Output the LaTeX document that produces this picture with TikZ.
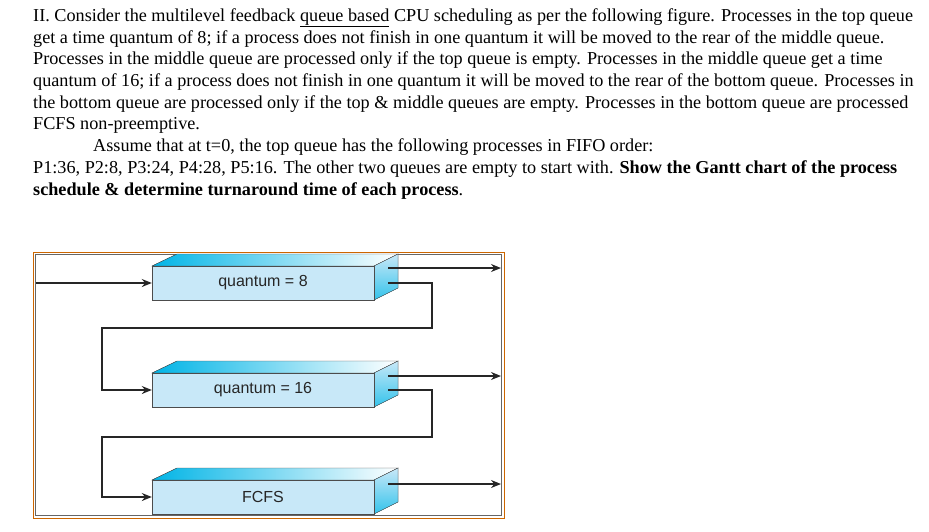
\documentclass[tikz,border=0pt]{standalone}
\usepackage{fontspec}
\setmainfont{Liberation Serif}
\newfontfamily\sansf{Liberation Sans}
\usetikzlibrary{arrows.meta}
\definecolor{frontc}{RGB}{200,232,248}
\definecolor{cyanc}{RGB}{0,180,230}
\definecolor{orng}{RGB}{204,102,0}
\tikzset{
 txt/.style={anchor=base west,inner sep=0,font=\fontsize{18.2}{20}\selectfont},
 conn/.style={line width=1.3pt,draw=black!85,-{Stealth[length=10pt,width=8pt]}},
 line/.style={line width=1.3pt,draw=black!85},
 front/.style={draw=black!70,fill=frontc,minimum width=222pt,minimum height=34pt,inner sep=0,font=\sansf\fontsize{16}{18}\selectfont,text=black!85},
}
\begin{document}
\begin{tikzpicture}[x=1pt,y=-1pt]
\useasboundingbox (0,0) rectangle (929,531);
\node[txt] (l1) at (33,21) {II. Consider the multilevel feedback \underline{queue based} CPU scheduling as per the following figure. Processes in the top queue};
\node[txt] (l2) at (33,43) {get a time quantum of 8; if a process does not finish in one quantum it will be moved to the rear of the middle queue.};
\node[txt] (l3) at (33,64) {Processes in the middle queue are processed only if the top queue is empty. Processes in the middle queue get a time};
\node[txt] (l4) at (33,86) {quantum of 16; if a process does not finish in one quantum it will be moved to the rear of the bottom queue. Processes in};
\node[txt] (l5) at (33,108) {the bottom queue are processed only if the top \& middle queues are empty. Processes in the bottom queue are processed};
\node[txt] (l6) at (33,129) {FCFS non-preemptive.};
\node[txt] (l7) at (93,151) {Assume that at t=0, the top queue has the following processes in FIFO order:};
\node[txt] (l8) at (33,173) {P1:36, P2:8, P3:24, P4:28, P5:16. The other two queues are empty to start with. \textbf{Show the Gantt chart of the process}};
\node[txt] (l9) at (33,195) {\textbf{schedule \& determine turnaround time of each process}.};
% frame
\draw[orng,line width=1pt] (33,252) rectangle (504,518);
\draw[black!60,line width=0.6pt] (35.5,254.5) rectangle (501.5,515.5);
% boxes
\foreach \n/\y/\t in {qa/283/{quantum = 8},qb/390/{quantum = 16},qc/497/{FCFS}}{
 \fill[left color=cyanc,right color=white,draw=black!70] (152,\y-17) -- (177,\y-29) -- (398,\y-29) -- (374,\y-17) -- cycle;
 \fill[top color=frontc,bottom color=cyanc!80,draw=black!70] (374,\y-17) -- (398,\y-29) -- (398,\y+5) -- (374,\y+17) -- cycle;
 \node[front] (\n) at (263,\y) {\t};
}
\coordinate (ia) at (36,283);
\coordinate (sa) at (388,268); \coordinate (oa) at (501,268);
\coordinate (sb) at (388,376); \coordinate (ob) at (501,376);
\coordinate (sc) at (388,484); \coordinate (oc) at (501,484);
\coordinate (fa) at (388,283); \coordinate (fb) at (388,390);
\draw[conn] (ia) -- (qa.west);
\draw[conn] (sa) -- (oa);
\draw[conn] (sb) -- (ob);
\draw[conn] (sc) -- (oc);
\draw[conn] (fa) -- (432,283) -- (432,328) -- (102,328) -- (102,390) -- (qb.west);
\draw[conn] (fb) -- (432,390) -- (432,437) -- (102,437) -- (102,497) -- (qc.west);
\end{tikzpicture}
\end{document}
